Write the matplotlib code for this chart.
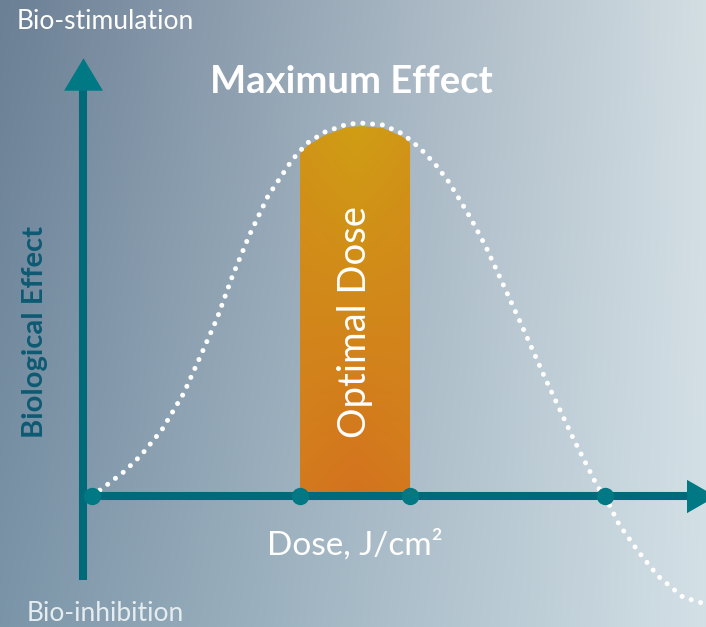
import numpy as np
import matplotlib.pyplot as plt
from matplotlib.colors import to_rgb

# dose response curve (dose in J/cm2, effect normalised to max)
dose = [0.0, 0.31, 0.64, 0.96, 1.36, 1.79, 2.14, 2.44, 2.73, 3.06, 3.43, 3.90,
        4.19, 4.54, 4.97, 5.26, 5.67, 6.06, 6.39, 6.69, 6.94, 7.17, 7.39, 7.68,
        7.95, 8.34, 8.85, 9.38, 9.86, 10.0, 10.27, 10.64, 11.03, 11.52, 11.97]
effect = [0.0, 0.032, 0.067, 0.11, 0.177, 0.276, 0.383, 0.477, 0.587, 0.697, 0.804, 0.901,
          0.946, 0.976, 0.997, 1.0, 0.995, 0.971, 0.933, 0.890, 0.845, 0.794, 0.743, 0.668,
          0.587, 0.469, 0.311, 0.155, 0.024, 0.0, -0.075, -0.147, -0.214, -0.271, -0.29]

key_doses = [0.0, 4.05, 6.2, 10.0]      # dots on the dose axis
optimal_range = (4.05, 6.2)              # orange "Optimal Dose" band

teal = '#00697a'
teal_light = '#007985'

plt.rcParams['font.family'] = ['Lato', 'DejaVu Sans']

fig = plt.figure(figsize=(7.06, 6.27), dpi=100)
ax = fig.add_axes([0, 0, 1, 1])
x0, x1 = -1.793, 11.969
y0, y1 = -0.351, 1.330
ax.set_xlim(x0, x1)
ax.set_ylim(y0, y1)
ax.axis('off')

# background gradient (bilinear from the four corners)
tl, tr = np.array(to_rgb('#6b7f95')), np.array(to_rgb('#d3dee3'))
bl, br = np.array(to_rgb('#7b95a8')), np.array(to_rgb('#d3e0e6'))
u = np.linspace(0, 1, 300)[None, :, None]
v = np.linspace(0, 1, 300)[:, None, None]
bg = (1 - v) * ((1 - u) * tl + u * tr) + v * ((1 - u) * bl + u * br)
ax.imshow(bg, extent=(x0, x1, y0, y1), aspect='auto', origin='upper', zorder=0)

# optimal dose band, top follows the curve
lo, hi = optimal_range
bx = np.linspace(lo, hi, 80)
btop = np.interp(bx, dose, effect) - 0.008
band = ax.fill_between(bx, 0, btop, color='none', lw=0, zorder=2)
top_c = np.array(to_rgb('#cf9e14'))
bot_c = np.array(to_rgb('#d4721f'))
edge_c = np.array(to_rgb('#d3861c'))
h = np.linspace(0, 1, 200)[:, None, None]
w = np.abs(np.linspace(-1, 1, 100))[None, :, None]
grad = (1 - h) * top_c + h * bot_c
grad = grad * (1 - 0.35 * w) + edge_c * 0.35 * w
im = ax.imshow(grad, extent=(lo, hi, 0, 1.0), aspect='auto', origin='upper', zorder=2)
im.set_clip_path(band.get_paths()[0], transform=ax.transData)

# dotted white curve
ax.plot(dose, effect, color='white', lw=3.6, linestyle=(0, (0.01, 1.95)),
        dash_capstyle='round', zorder=3)

# axes with arrow heads
vx = -0.175
ax.plot([vx, vx], [-0.225, 1.09], color=teal, lw=5.8, solid_capstyle='butt', zorder=4)
ax.plot([vx, x1], [0, 0], color=teal, lw=5.8, solid_capstyle='butt', zorder=4)
ax.plot([vx], [1.132], marker=[(-1.2, -1), (1.2, -1), (0, 1)], ms=28,
        color=teal_light, mec='none', zorder=5)
ax.plot([11.87], [0], marker=[(-1, -1.15), (-1, 1.15), (1, 0)], ms=24,
        color=teal_light, mec='none', zorder=5)
ax.plot(key_doses, [0] * len(key_doses), 'o', ms=12.5, color=teal_light, mec='none', zorder=5)

# labels
ax.text(-1.46, 1.272, 'Bio-stimulation', color='white', fontsize=19, va='center', ha='left')
ax.text(-1.27, -0.316, 'Bio-inhibition', color='#e6edf0', fontsize=19, va='center', ha='left')
ax.text(5.05, 1.110, 'Maximum Effect', color='white', fontsize=27.5, fontweight='bold',
        va='center', ha='center')
ax.text(5.13, 0.466, 'Optimal Dose', color='white', fontsize=27.5, rotation=90,
        va='center', ha='center')
ax.text(-1.12, 0.44, 'Biological Effect', color='#0d5a72', fontsize=21, fontweight='bold',
        rotation=90, va='center', ha='center')
ax.text(5.12, -0.13, 'Dose, J/cm²', color='white', fontsize=24, va='center', ha='center')

fig.savefig('out.png', dpi=100)
